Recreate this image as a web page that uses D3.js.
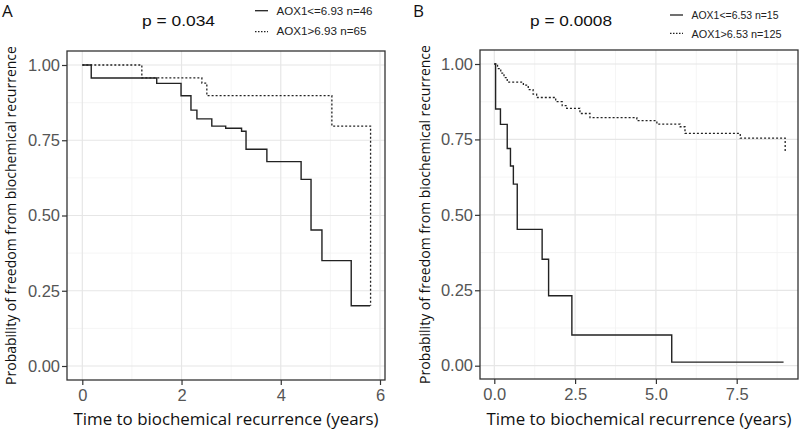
<!DOCTYPE html>
<html>
<head>
<meta charset="utf-8">
<script src="https://cdn.jsdelivr.net/npm/d3@7"></script>
<style>
  body { margin: 0; background: #fff; }
  svg { display: block; }
</style>
</head>
<body>
<svg id="chart" width="800" height="433"></svg>
<script>
// Panel A: AOX1 cut-off 6.93
const timesA_low = [0, 0.18, 1.5, 1.99, 2.19, 2.31, 2.61, 2.89, 3.21, 3.30, 3.72, 4.41, 4.61, 4.83, 5.42, 5.80];
const survA_low  = [1, 0.957, 0.939, 0.898, 0.850, 0.821, 0.797, 0.790, 0.780, 0.720, 0.679, 0.620, 0.452, 0.350, 0.200, 0.200];
const timesA_high = [0, 1.2, 2.41, 2.51, 5.03, 5.81, 5.81];
const survA_high  = [1, 0.957, 0.940, 0.898, 0.797, 0.797, 0.200];

// Panel B: AOX1 cut-off 6.53
const timesB_low = [0, 0.04, 0.19, 0.40, 0.50, 0.59, 0.71, 1.48, 1.68, 2.40, 5.49, 8.95];
const survB_low  = [1, 0.851, 0.800, 0.720, 0.662, 0.602, 0.452, 0.353, 0.232, 0.102, 0.012, 0.012];
const timesB_high = [0, 0.1, 0.2, 0.3, 0.4, 0.9, 1.05, 1.2, 1.31, 1.9, 2.1, 2.24, 2.65, 2.96, 4.41, 5.03, 5.75, 5.90, 7.61, 9.0, 9.0];
const survB_high  = [1, 0.985, 0.970, 0.955, 0.940, 0.930, 0.915, 0.900, 0.889, 0.875, 0.862, 0.853, 0.836, 0.822, 0.812, 0.801, 0.792, 0.770, 0.754, 0.754, 0.710];

const yTicks = [0, 0.25, 0.5, 0.75, 1];
const xTicksA = [0, 2, 4, 6];
const xTicksB = [0, 2.5, 5, 7.5];
const legendA = ['AOX1<=6.93 n=46', 'AOX1>6.93 n=65'];
const legendB = ['AOX1<=6.53 n=15', 'AOX1>6.53 n=125'];

const svg = d3.select('#chart');

// the figure is a bit stretched sideways, so titles are fitted to a width
function label(g, x, y, txt, size, width, family) {
  const t = g.append('text')
    .attr('x', x).attr('y', y)
    .style('font-family', family || '"Open Sans", sans-serif')
    .style('font-size', size + 'px')
    .attr('fill', '#111')
    .text(txt);
  if (width) t.attr('textLength', width).attr('lengthAdjust', 'spacingAndGlyphs');
  return t;
}

function drawPanel(opts) {
  const g = svg.append('g');
  const { frame, x, y } = opts;

  // minor grid
  const step = opts.xTicks[1] - opts.xTicks[0];
  const xMinor = opts.xTicks.map(t => t + step / 2).filter(v => x(v) < frame.right);
  const yMinor = [0.125, 0.375, 0.625, 0.875];

  g.selectAll('.minx').data(xMinor).enter().append('line')
    .attr('x1', d => x(d)).attr('x2', d => x(d))
    .attr('y1', frame.top).attr('y2', frame.bottom)
    .attr('stroke', '#f2f2f2').attr('stroke-width', 0.8);
  g.selectAll('.miny').data(yMinor).enter().append('line')
    .attr('x1', frame.left).attr('x2', frame.right)
    .attr('y1', d => y(d)).attr('y2', d => y(d))
    .attr('stroke', '#f2f2f2').attr('stroke-width', 0.8);

  // major grid
  g.selectAll('.majx').data(opts.xTicks).enter().append('line')
    .attr('x1', d => x(d)).attr('x2', d => x(d))
    .attr('y1', frame.top).attr('y2', frame.bottom)
    .attr('stroke', '#e6e6e6').attr('stroke-width', 1.2);
  g.selectAll('.majy').data(yTicks).enter().append('line')
    .attr('x1', frame.left).attr('x2', frame.right)
    .attr('y1', d => y(d)).attr('y2', d => y(d))
    .attr('stroke', '#e6e6e6').attr('stroke-width', 1.2);

  // curves
  const line = d3.line()
    .x(d => x(d[0]))
    .y(d => y(d[1]))
    .curve(d3.curveStepAfter);

  g.append('path')
    .datum(d3.zip(opts.tHigh, opts.sHigh))
    .attr('fill', 'none')
    .attr('stroke', '#222')
    .attr('stroke-width', 1.3)
    .attr('stroke-dasharray', '2,2')
    .attr('d', line);

  g.append('path')
    .datum(d3.zip(opts.tLow, opts.sLow))
    .attr('fill', 'none')
    .attr('stroke', '#222')
    .attr('stroke-width', 1.4)
    .attr('d', line);

  // frame
  g.append('rect')
    .attr('x', frame.left).attr('y', frame.top)
    .attr('width', frame.right - frame.left)
    .attr('height', frame.bottom - frame.top)
    .attr('fill', 'none')
    .attr('stroke', '#333')
    .attr('stroke-width', 1.3);

  // axes
  const xAxis = g.append('g')
    .attr('transform', `translate(0,${frame.bottom})`)
    .call(d3.axisBottom(x).tickValues(opts.xTicks).tickFormat(opts.xFormat).tickSizeOuter(0).tickSize(5).tickPadding(4));
  const yAxis = g.append('g')
    .attr('transform', `translate(${frame.left},0)`)
    .call(d3.axisLeft(y).tickValues(yTicks).tickFormat(d3.format('.2f')).tickSizeOuter(0).tickSize(5).tickPadding(2));
  [xAxis, yAxis].forEach(a => {
    a.select('.domain').remove();
    a.selectAll('line').attr('stroke', '#333').attr('stroke-width', 1.2);
    a.selectAll('text')
      .attr('fill', '#555')
      .style('font-family', '"Liberation Sans", Arial, sans-serif')
      .style('font-size', '16.5px');
  });

  // axis titles
  label(g, (frame.left + frame.right) / 2, 425, 'Time to biochemical recurrence (years)', 16.5, 305)
    .attr('text-anchor', 'middle');

  g.append('text')
    .attr('transform', `translate(${opts.yLabelX},${(frame.top + frame.bottom) / 2}) rotate(-90)`)
    .attr('text-anchor', 'middle')
    .style('font-family', '"Open Sans", sans-serif')
    .style('font-size', '14px')
    .attr('fill', '#111')
    .text('Probability of freedom from biochemical recurrence');

  // panel letter
  label(g, opts.letterX, 17, opts.letter, 17);

  // p-value
  label(g, opts.pX, 26, opts.pText, 15.5, opts.pWidth, '"Liberation Sans", Arial, sans-serif');

  // legend
  opts.legend.forEach((lab, i) => {
    g.append('line')
      .attr('x1', opts.legX).attr('x2', opts.legX + 13)
      .attr('y1', opts.legLineY[i]).attr('y2', opts.legLineY[i])
      .attr('stroke', '#222').attr('stroke-width', 1.3)
      .attr('stroke-dasharray', i === 1 ? '1.5,1.5' : null);
    label(g, opts.legX + 21.5, opts.legTextY[i], lab, 11.5, opts.legWidth[i], '"Liberation Sans", Arial, sans-serif')
      .attr('fill', '#222');
  });
}

drawPanel({
  frame: { left: 67, right: 385, top: 51, bottom: 380 },
  x: d3.scaleLinear().domain([0, 6]).range([82.3, 380]),
  y: d3.scaleLinear().domain([0, 1]).range([366, 65]),
  xTicks: xTicksA,
  xFormat: d3.format('d'),
  tLow: timesA_low, sLow: survA_low,
  tHigh: timesA_high, sHigh: survA_high,
  yLabelX: 15.5,
  letter: 'A', letterX: 2,
  pText: 'p = 0.034', pX: 142, pWidth: 73,
  legend: legendA,
  legX: 255, legLineY: [10.7, 31.7], legTextY: [15, 35], legWidth: [96, 90]
});

drawPanel({
  frame: { left: 480, right: 798, top: 50, bottom: 379 },
  x: d3.scaleLinear().domain([0, 7.5]).range([494.3, 736.7]),
  y: d3.scaleLinear().domain([0, 1]).range([365.7, 64]),
  xTicks: xTicksB,
  xFormat: d3.format('.1f'),
  tLow: timesB_low, sLow: survB_low,
  tHigh: timesB_high, sHigh: survB_high,
  yLabelX: 430,
  letter: 'B', letterX: 413,
  pText: 'p = 0.0008', pX: 530, pWidth: 82,
  legend: legendB,
  legX: 670, legLineY: [15, 33.3], legTextY: [18.5, 38], legWidth: [87, 90]
});
</script>
</body>
</html>
